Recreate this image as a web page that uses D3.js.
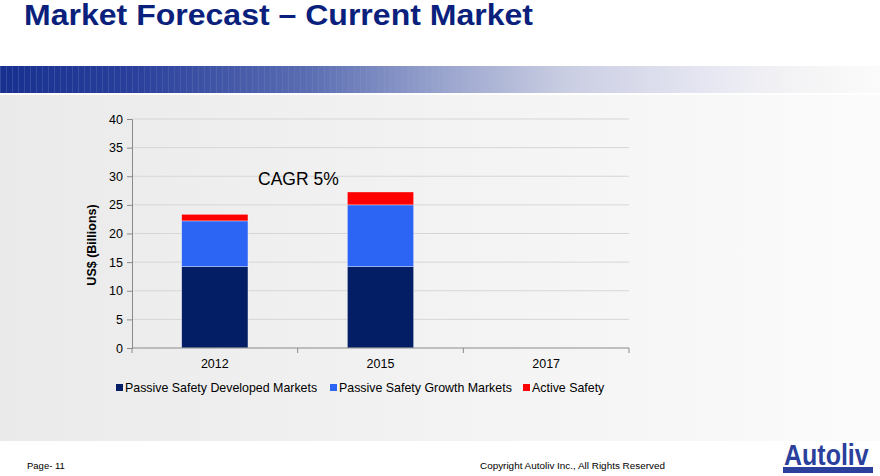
<!DOCTYPE html>
<html><head><meta charset="utf-8">
<script src="https://cdn.jsdelivr.net/npm/d3@7"></script>
<style>
html,body{margin:0;padding:0;background:#fff;}
svg{display:block;font-family:"Liberation Sans",Arial,Helvetica,sans-serif;}
</style></head>
<body>
<svg id="c" width="880" height="476"></svg>
<script>
const years = ["2012", "2015", "2017"];
const developed = [14.2, 14.2, null];
const growth = [8.0, 10.8, null];
const active = [1.15, 2.25, null];
const seriesNames = ["Passive Safety Developed Markets", "Passive Safety Growth Markets", "Active Safety"];
const seriesColors = ["#041e66", "#2c64f4", "#ff0000"];
const yTicks = [0, 5, 10, 15, 20, 25, 30, 35, 40];

(function(){
const svg = d3.select("#c");
const defs = svg.append("defs");

const bg = defs.append("linearGradient").attr("id","bg").attr("x1","0").attr("x2","1").attr("y1","0").attr("y2","0");
bg.append("stop").attr("offset","0").attr("stop-color","#eaeaea");
bg.append("stop").attr("offset","1").attr("stop-color","#fbfbfb");
const band = defs.append("linearGradient").attr("id","band").attr("x1","0").attr("x2","1").attr("y1","0").attr("y2","0");
[[0,"#17308f"],[0.15,"#293f9b"],[0.35,"#5a6db2"],[0.5,"#98a3cd"],[0.64,"#c9cde2"],[0.8,"#e6e6f2"],[0.9,"#f3f3f5"],[1,"#fbfbfb"]]
  .forEach(([o,c]) => band.append("stop").attr("offset",o).attr("stop-color",c));

svg.append("rect").attr("x",0).attr("y",95).attr("width",880).attr("height",346).attr("fill","url(#bg)");
svg.append("rect").attr("x",0).attr("y",66).attr("width",880).attr("height",27).attr("fill","url(#band)");
const stripes = d3.range(0, 620, 6);
svg.append("g").selectAll("rect").data(stripes).join("rect")
  .attr("x", d => d).attr("y",66).attr("width",1).attr("height",27)
  .attr("fill","#ffffff").attr("opacity", d => 0.12 * (1 - d/620));

svg.append("text").attr("x",24).attr("y",25).attr("font-size",29).attr("font-weight","bold")
  .attr("fill","#0b1f7c").attr("textLength",509).attr("lengthAdjust","spacingAndGlyphs")
  .text("Market Forecast \u2013 Current Market");

const pL = 132, pR = 629, pT = 119, pB = 348;
const x = d3.scaleBand().domain(years).range([pL, pR]).paddingInner(0.6).paddingOuter(0.3);
const y = d3.scaleLinear().domain([0, 40]).range([pB, pT]);

svg.append("g").selectAll("line").data(yTicks.slice(1)).join("line")
  .attr("x1",pL).attr("x2",pR).attr("y1",d=>y(d)).attr("y2",d=>y(d))
  .attr("stroke","#d6d6d6").attr("stroke-width",1);

const rows = years.map((yr,i) => ({year: yr, a: developed[i], b: growth[i], c: active[i]}));
const stack = d3.stack().keys(["a","b","c"]).value((d,k) => d[k] == null ? 0 : d[k]);
const layers = stack(rows);
svg.append("g").selectAll("g").data(layers).join("g")
  .attr("fill", (d,i) => seriesColors[i])
  .selectAll("rect").data(d => d.filter(p => p[1] > p[0])).join("rect")
  .attr("x", d => x(d.data.year)).attr("width", x.bandwidth())
  .attr("y", d => y(d[1])).attr("height", d => y(d[0]) - y(d[1]))
  .attr("stroke","rgba(255,255,255,0.6)").attr("stroke-width",0.6);

const yAxis = svg.append("g").attr("transform",`translate(${pL},0)`)
  .call(d3.axisLeft(y).tickValues(yTicks).tickSize(5).tickPadding(4));
yAxis.select(".domain").attr("stroke","#8a8a8a");
yAxis.selectAll(".tick line").attr("stroke","#8a8a8a");
yAxis.selectAll("text").attr("font-size",12.5).attr("fill","#000").attr("font-family","Liberation Sans, Arial, sans-serif");

const xb = d3.scalePoint().domain([0,1,2,3]).range([pL,pR]);
const xAxisG = svg.append("g").attr("transform",`translate(0,${pB})`);
xAxisG.append("line").attr("x1",pL).attr("x2",pR).attr("y1",0).attr("y2",0).attr("stroke","#8a8a8a");
xAxisG.selectAll("line.t").data([0,1,2,3]).join("line").attr("class","t")
  .attr("x1",d=>xb(d)).attr("x2",d=>xb(d)).attr("y1",0).attr("y2",5).attr("stroke","#8a8a8a");
xAxisG.selectAll("text").data(years).join("text")
  .attr("x", d => x(d) + x.bandwidth()/2).attr("y", 19.5)
  .attr("text-anchor","middle").attr("font-size",12.5).attr("fill","#000").text(d => d);

svg.append("text").attr("transform","translate(96,245) rotate(-90)")
  .attr("text-anchor","middle").attr("font-size",12.5).attr("font-weight","bold").attr("fill","#000")
  .text("US$ (Billions)");

svg.append("text").attr("x",258).attr("y",185).attr("font-size",17.5).attr("fill","#000").text("CAGR 5%");

const legX = [116, 330, 523];
const leg = svg.append("g").selectAll("g").data(seriesNames).join("g")
  .attr("transform",(d,i)=>`translate(${legX[i]},392)`);
leg.append("rect").attr("x",0).attr("y",-8).attr("width",7).attr("height",7).attr("fill",(d,i)=>seriesColors[i]);
leg.append("text").attr("x",9).attr("y",0).attr("font-size",12.4).attr("fill","#000").text(d=>d);

svg.append("text").attr("x",27).attr("y",469).attr("font-size",9.5).attr("fill","#000").text("Page- 11");
svg.append("text").attr("x",480).attr("y",469).attr("font-size",9.6).attr("fill","#000")
  .attr("textLength",185).attr("lengthAdjust","spacingAndGlyphs").text("Copyright Autoliv Inc., All Rights Reserved");
svg.append("text").attr("transform","translate(784,465) scale(1,1.2)").attr("x",0).attr("y",0)
  .attr("font-size",25).attr("font-weight","bold")
  .attr("fill","#2b3f9c").text("Autoliv");
svg.append("rect").attr("x",783).attr("y",467).attr("width",90).attr("height",6).attr("fill","#2b3f9c");
})();
</script>
</body></html>
